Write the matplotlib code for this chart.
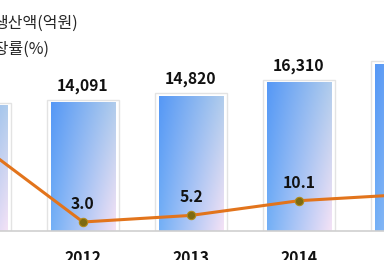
import numpy as np
import matplotlib
matplotlib.use("Agg")
import matplotlib.pyplot as plt

# ---- Data ---- #
years = ["2011", "2012", "2013", "2014", "2015"]
output_value = [13740, 14091, 14820, 16310, 18350]   # 생산액(억원)
growth_rate = [30.0, 3.0, 5.2, 10.1, 12.2]           # 성장률(%)

KR_FONT = ["Noto Sans CJK KR", "DejaVu Sans"]
plt.rcParams["font.family"] = KR_FONT

# ---- Figure / axes ---- #
fig = plt.figure(figsize=(3.84, 2.60), dpi=100)
ax = fig.add_axes([0, 29 / 260, 1, 231 / 260])
ax2 = ax.twinx()

x = np.arange(len(years))
bar_w = 0.60

# bar frames (faint gray outline around each bar)
ax.bar(x, [v + 330 for v in output_value], width=0.674, color="white",
       edgecolor="#e3e3e3", linewidth=1.0, zorder=1)

# gradient bars
bars = ax.bar(x, output_value, width=bar_w, color="none", zorder=2)
tl = np.array([86, 152, 246]) / 255
tr = np.array([176, 204, 236]) / 255
bl = np.array([116, 176, 246]) / 255
br = np.array([244, 226, 246]) / 255
u = np.linspace(0, 1, 64)[None, :, None]
v = np.linspace(0, 1, 64)[:, None, None]
grad = (1 - v) * ((1 - u) * tl + u * tr) + v * ((1 - u) * bl + u * br)
for b in bars:
    x0, w, h = b.get_x(), b.get_width(), b.get_height()
    ax.imshow(grad, extent=(x0, x0 + w, 0, h), origin="upper",
              aspect="auto", zorder=2)

for xi, val in zip(x, output_value):
    ax.annotate(f"{val:,}", (xi, val), xytext=(0, 12.2), textcoords="offset points",
                ha="center", va="center", fontsize=11.3, fontweight="bold",
                color="#111111", zorder=5)

# ---- growth line ---- #
ax2.plot(x, growth_rate, color="#e2741c", linewidth=2.2, marker="o",
         markersize=6, markerfacecolor="#7d6a12", markeredgecolor="#b08a1a",
         markeredgewidth=0.8, zorder=4)
for xi, val in zip(x, growth_rate):
    ax2.annotate(f"{val:.1f}", (xi, val), xytext=(0, 13), textcoords="offset points",
                 ha="center", va="center", fontsize=11.3, fontweight="bold",
                 color="#111111")

# ---- axes styling ---- #
for a in (ax, ax2):
    for side in ("top", "left", "right"):
        a.spines[side].set_visible(False)
    a.set_yticks([])
ax2.spines["bottom"].set_visible(False)
ax.spines["bottom"].set_color("#cfcfcf")
ax.spines["bottom"].set_linewidth(1.2)
ax.set_xticks(x, labels=years)
ax.tick_params(axis="x", length=0, pad=13.5, labelsize=11.3)
for lbl in ax.get_xticklabels():
    lbl.set_fontweight("bold")
    lbl.set_color("#111111")

# limits last: set_xticks and the twin axis would widen them again
ax.set_xlim(0.2315, 3.787)
ax.set_ylim(0, 25385)
ax2.set_ylim(0, 77)

# ---- legend texts (cut off at the left edge) ---- #
fig.text(-7 / 384, 1 - 23 / 260, "생산액(억원)", ha="left", va="center",
         fontsize=11.5, color="#262626")
fig.text(-21 / 384, 1 - 49 / 260, "성장률(%)", ha="left", va="center",
         fontsize=11.5, color="#262626")

fig.savefig("out.png", dpi=100)
